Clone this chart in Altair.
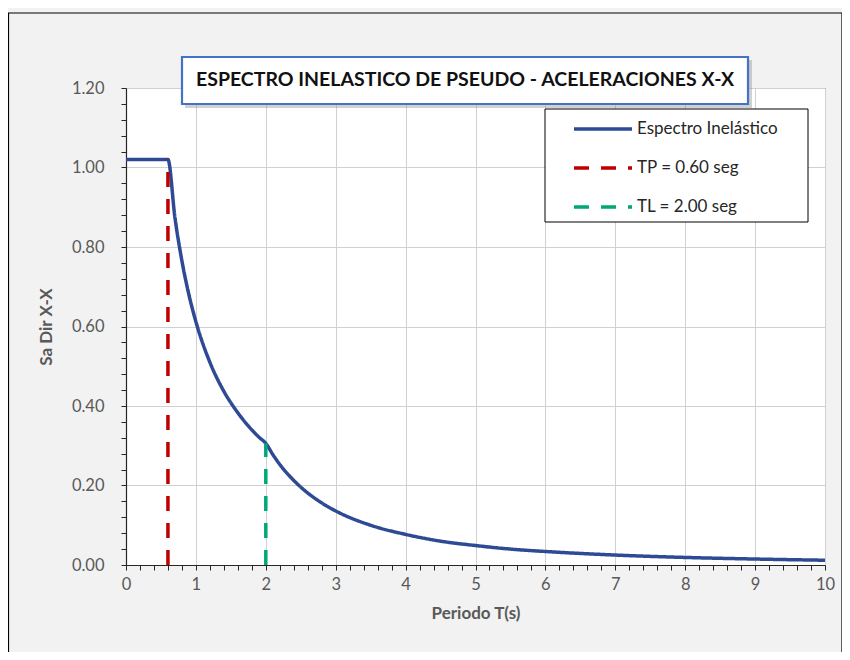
import altair as alt
import pandas as pd

# ---- data ----
T_SPEC = [0, 0.6, 0.7, 0.8, 0.9, 1.0, 1.2, 1.4, 1.6, 1.8, 1.9, 2.0, 2.1, 2.2, 2.35, 2.5, 2.75,
          3.0, 3.5, 4.0, 4.5, 5.0, 5.5, 6.0, 7.0, 8.0, 9.0, 10.0]
SA_SPEC = [1.02, 1.02, 0.874, 0.765, 0.680, 0.612, 0.510, 0.437, 0.383, 0.340, 0.322,
           0.306, 0.278, 0.253, 0.222, 0.196, 0.162, 0.136, 0.100, 0.077, 0.060, 0.049,
           0.040, 0.034, 0.025, 0.019, 0.015, 0.012]
T_TP = [0.6, 0.6]
SA_TP = [0.0, 1.02]
T_TL = [2.0, 2.0]
SA_TL = [0.0, 0.306]

SERIES = ["Espectro Inelástico", "TP = 0.60 seg", "TL = 2.00 seg"]
COLORS = ["#2E4A94", "#C00000", "#00A878"]
DASHES = [[1, 0], [15, 12], [15, 12]]

X_TICKS = [round(i * 0.2, 1) for i in range(51)]
Y_TICKS = [round(i * 0.04, 2) for i in range(31)]

TITLE = "ESPECTRO INELASTICO DE PSEUDO - ACELERACIONES X-X"
X_TITLE = "Periodo T(s)"
Y_TITLE = "Sa Dir X-X"

FONT = "Lato"
W, H = 699, 477

rows = []
for t, s in zip(T_SPEC, SA_SPEC):
    rows.append({"T": t, "Sa": s, "serie": SERIES[0]})
for t, s in zip(T_TP, SA_TP):
    rows.append({"T": t, "Sa": s, "serie": SERIES[1]})
for t, s in zip(T_TL, SA_TL):
    rows.append({"T": t, "Sa": s, "serie": SERIES[2]})
df = pd.DataFrame(rows)
df["idx"] = range(len(df))

one = pd.DataFrame({"t": [TITLE]})

x_major = "abs(datum.value - round(datum.value)) < 0.001"
y_major = "abs(datum.value * 5 - round(datum.value * 5)) < 0.001"

lines = alt.Chart(df).mark_line(strokeWidth=3.5, interpolate="monotone").encode(
    x=alt.X("T:Q", scale=alt.Scale(domain=[0, 10], nice=False),
            title=X_TITLE,
            axis=alt.Axis(values=X_TICKS, labelExpr=f"{x_major} ? format(datum.value, 'd') : ''",
                          labelOverlap=False, labelFlush=False,
                          gridOpacity={"condition": {"test": x_major, "value": 1}, "value": 0},
                          tickSize=5, labelPadding=6, titlePadding=13)),
    y=alt.Y("Sa:Q", scale=alt.Scale(domain=[0, 1.2], nice=False),
            title=Y_TITLE,
            axis=alt.Axis(values=Y_TICKS, labelExpr=f"{y_major} ? format(datum.value, '.2f') : ''",
                          labelOverlap=False, labelFlush=False,
                          gridOpacity={"condition": {"test": y_major, "value": 1}, "value": 0},
                          tickSize=5, labelPadding=17, titlePadding=16)),
    color=alt.Color("serie:N", title=None,
                    scale=alt.Scale(domain=SERIES, range=COLORS),
                    legend=alt.Legend(orient="none", legendX=465, legendY=29)),
    strokeDash=alt.StrokeDash("serie:N", title=None,
                              scale=alt.Scale(domain=SERIES, range=DASHES),
                              legend=alt.Legend(orient="none", legendX=465, legendY=29)),
    detail="serie:N",
    order=alt.Order("idx:Q"),
)

border = alt.Chart(one).mark_rect(fill=None, stroke="#000000", strokeWidth=1.2).encode(
    x=alt.value(-117.5), x2=alt.value(716), y=alt.value(-75), y2=alt.value(600))

shadow = alt.Chart(one).mark_rect(fill="#9a9a9a", opacity=0.45).encode(
    x=alt.value(59), x2=alt.value(626), y=alt.value(-28), y2=alt.value(20))
title_box = alt.Chart(one).mark_rect(fill="#ffffff", stroke="#4472C4", strokeWidth=2.2).encode(
    x=alt.value(56), x2=alt.value(622), y=alt.value(-31), y2=alt.value(16))
title_text = alt.Chart(one).mark_text(font=FONT, fontSize=19.5, fontWeight="bold",
                                      color="#111111", align="center", baseline="middle").encode(
    x=alt.value(339), y=alt.value(-8), text="t:N")

legend_box = alt.Chart(one).mark_rect(fill="#ffffff", stroke="#000000", strokeWidth=1).encode(
    x=alt.value(419), x2=alt.value(682), y=alt.value(21), y2=alt.value(134))

chart = alt.layer(border, lines, shadow, title_box, title_text, legend_box).properties(
    width=W, height=H,
    autosize=alt.AutoSizeParams(type="none"),
    padding={"left": 118, "top": 80, "right": 17, "bottom": 87},
    background="#f2f2f2",
).configure_view(
    fill="#ffffff", stroke="#595959", strokeWidth=1,
).configure_axis(
    labelFont=FONT, labelFontSize=16.5, labelColor="#595959",
    titleFont=FONT, titleFontSize=17, titleFontWeight="bold", titleColor="#595959",
    gridColor="#d0d0d0", gridWidth=1,
    domainColor="#262626", domainWidth=1.2,
    tickColor="#262626", tickWidth=1,
).configure_legend(
    symbolType="M-2.9,0H2.9", symbolSize=400, symbolStrokeWidth=3.5,
    labelFont=FONT, labelFontSize=17, labelColor="#262626",
    rowPadding=19, labelOffset=22, padding=0,
)

chart.save("out.html", embed_options={"renderer": "svg", "actions": False})
